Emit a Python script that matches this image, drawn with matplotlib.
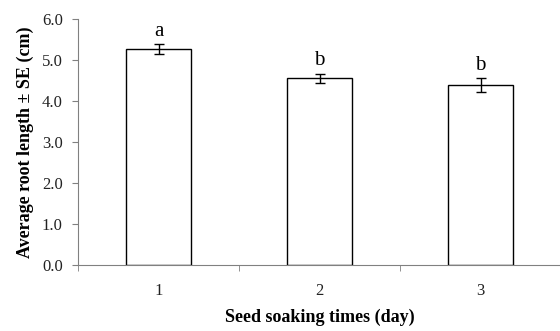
import matplotlib
matplotlib.use('Agg')
import matplotlib.pyplot as plt
import numpy as np

days = ['1', '2', '3']
root_len = [5.26, 4.55, 4.39]
se = [0.12, 0.12, 0.17]
letters = ['a', 'b', 'b']

plt.rcParams['font.family'] = ['Liberation Serif', 'DejaVu Serif']

fig = plt.figure(figsize=(5.6, 3.31), dpi=100)
ax = fig.add_axes([78 / 560, (331 - 265) / 331, 483 / 560, 246 / 331])

x = np.arange(1, len(days) + 1)
ax.bar(x, root_len, width=0.4, color='white', edgecolor='black', lw=1.0,
       yerr=se, error_kw=dict(ecolor='black', elinewidth=1.0, capsize=3.5,
                              capthick=1.0))
for x0, y0, e, lab in zip(x, root_len, se, letters):
    ax.annotate(lab, (x0, y0 + e), xytext=(0, 6), textcoords='offset points',
                ha='center', va='baseline', size=15)

ax.set_xlim(0.5, 3.5)
ax.set_ylim(0, 6)
ax.set_yticks(np.arange(0, 6.01, 1.0))
ax.set_yticklabels(['{:.1f}'.format(v) for v in np.arange(0, 6.01, 1.0)])
ax.set_xticks(x)
ax.set_xticklabels(days)
ax.set_xticks(np.arange(0.5, 3.6, 1.0), minor=True)
ax.tick_params(axis='x', which='major', length=0, pad=13, labelsize=12,
               labelcolor='#222222')
ax.tick_params(axis='x', which='minor', length=4, color='gray')
ax.tick_params(axis='y', length=4, color='gray', labelsize=12, pad=7,
               labelcolor='#222222')

for s in ['top', 'right']:
    ax.spines[s].set_visible(False)
for s in ['left', 'bottom']:
    ax.spines[s].set_color('gray')

ax.set_xlabel('Seed soaking times (day)', fontweight='bold', size=13,
              labelpad=7)
ax.set_ylabel('Average root length \u00b1 SE (cm)', fontweight='bold', size=13,
              labelpad=6)

fig.savefig('out.png', dpi=100)
